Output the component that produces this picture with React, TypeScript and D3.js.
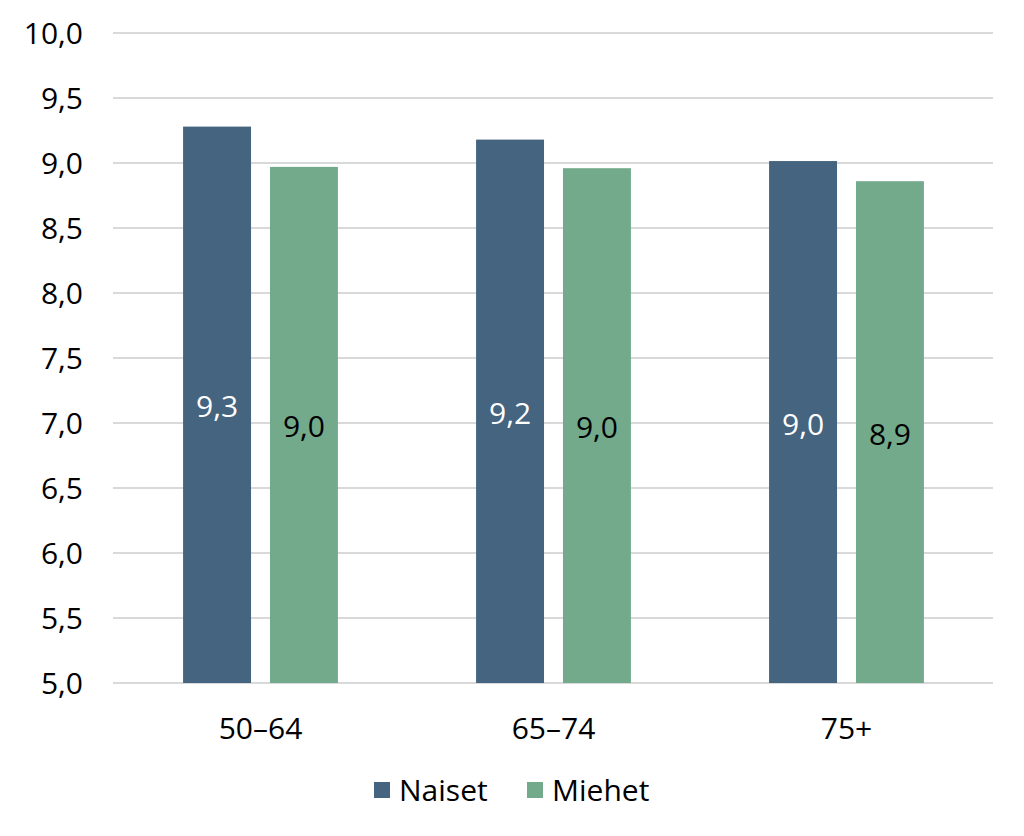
import React from "react";
import * as d3 from "d3";

const categories = ["50–64", "65–74", "75+"];
const seriesNames = ["Naiset", "Miehet"];
const naiset = [9.28, 9.18, 9.015];
const miehet = [8.97, 8.96, 8.86];
const yTicks = [5, 5.5, 6, 6.5, 7, 7.5, 8, 8.5, 9, 9.5, 10];

const colors: Record<string, string> = { Naiset: "#44647f", Miehet: "#72aa8b" };
const labelColors: Record<string, string> = { Naiset: "#ffffff", Miehet: "#000000" };

const width = 1024;
const height = 836;
const margin = { top: 33, right: 31, bottom: 153, left: 114 };
const font = "'Open Sans', 'DejaVu Sans', sans-serif";
const fs = 30;

const fmt = (v: number) => d3.format(".1f")(v).replace(".", ",");

export default function App() {
  const values: Record<string, number[]> = { Naiset: naiset, Miehet: miehet };

  const x0 = d3
    .scaleBand<string>()
    .domain(categories)
    .range([margin.left, width - margin.right]);

  const x1 = d3
    .scaleBand<string>()
    .domain(seriesNames)
    .range([0, x0.bandwidth()])
    .paddingInner(0.218)
    .paddingOuter(0.795);

  const y = d3
    .scaleLinear()
    .domain([5, 10])
    .range([height - margin.bottom, margin.top]);

  return (
    <svg
      width={width}
      height={height}
      style={{ position: "absolute", left: 0, top: 0, background: "#fff" }}
      fontFamily={font}
    >
      {/* gridlines */}
      <g>
        {yTicks.map((t) => (
          <line
            key={t}
            x1={margin.left - 1}
            x2={width - margin.right}
            y1={y(t)}
            y2={y(t)}
            stroke="#d9d9d9"
            strokeWidth={2}
          />
        ))}
      </g>

      {/* y tick labels */}
      <g>
        {yTicks.map((t) => (
          <text
            key={t}
            x={83}
            y={y(t)}
            dy="0.35em"
            textAnchor="end"
            fontSize={fs}
            fill="#000"
          >
            {fmt(t)}
          </text>
        ))}
      </g>

      {/* bars */}
      {categories.map((c, i) => (
        <g key={c} transform={`translate(${x0(c)},0)`}>
          {seriesNames.map((s) => {
            const v = values[s][i];
            const top = y(v);
            const bottom = y(5);
            return (
              <g key={s}>
                <rect
                  x={x1(s)}
                  y={top}
                  width={x1.bandwidth()}
                  height={bottom - top}
                  fill={colors[s]}
                />
                <text
                  x={(x1(s) ?? 0) + x1.bandwidth() / 2}
                  y={(top + bottom) / 2 + 2}
                  dy="0.35em"
                  textAnchor="middle"
                  fontSize={fs}
                  fill={labelColors[s]}
                >
                  {fmt(v)}
                </text>
              </g>
            );
          })}
        </g>
      ))}

      {/* x axis labels */}
      <g>
        {categories.map((c) => (
          <text
            key={c}
            x={(x0(c) ?? 0) + x0.bandwidth() / 2}
            y={728}
            dy="0.35em"
            textAnchor="middle"
            fontSize={fs}
            fill="#000"
          >
            {c}
          </text>
        ))}
      </g>

      {/* legend */}
      <g>
        {seriesNames.map((s, i) => {
          const lx = i === 0 ? 374 : 527;
          return (
            <g key={s} transform={`translate(${lx},790)`}>
              <rect x={0} y={-8} width={16} height={16} fill={colors[s]} />
              <text x={25} y={0} dy="0.35em" fontSize={fs} fill="#000">
                {s}
              </text>
            </g>
          );
        })}
      </g>
    </svg>
  );
}
